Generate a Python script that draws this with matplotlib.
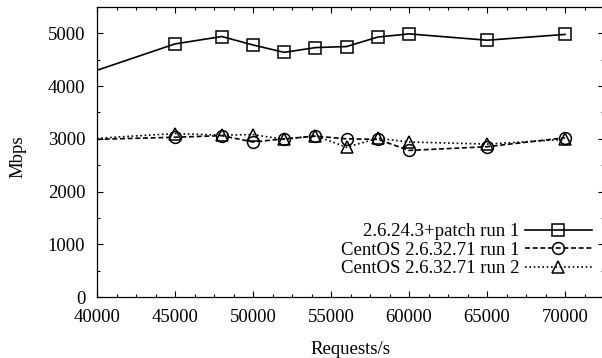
import numpy as np
import matplotlib.pyplot as plt
from matplotlib.ticker import MultipleLocator

plt.rcParams['font.family'] = ['Liberation Serif', 'DejaVu Serif']
plt.rcParams['font.size'] = 13.5

# data (first point sits on the left border, no marker)
req_patch = [40000, 45000, 48000, 50000, 52000, 54000, 56000, 58000, 60000, 65000, 70000]
mbps_patch = [4300, 4800, 4940, 4780, 4640, 4730, 4750, 4930, 4990, 4870, 4980]

req_centos = [40000, 45000, 48000, 50000, 52000, 54000, 56000, 58000, 60000, 65000, 70000]
mbps_run1 = [2990, 3030, 3060, 2940, 3000, 3050, 3000, 2990, 2780, 2850, 3020]
mbps_run2 = [3010, 3100, 3070, 3080, 2990, 3060, 2840, 3010, 2940, 2900, 2990]

labels = ['2.6.24.3+patch run 1', 'CentOS 2.6.32.71 run 1', 'CentOS 2.6.32.71 run 2']

fig = plt.figure(figsize=(6.02, 3.58), dpi=100)
ax = fig.add_axes([97 / 602, 61 / 358, 507 / 602, 290 / 358])

common = dict(color='black', markerfacecolor='none', markeredgewidth=1.1,
              markevery=slice(1, None))
ax.plot(req_patch, mbps_patch, '-', marker='s', markersize=9, linewidth=1.2,
        label=labels[0], **common)
ax.plot(req_centos, mbps_run1, linestyle=(0, (3, 1.6)), marker='o', markersize=8.5,
        linewidth=1.2, label=labels[1], **common)
ax.plot(req_centos, mbps_run2, linestyle=(0, (1, 1.6)), marker='^', markersize=8.5,
        linewidth=1.2, label=labels[2], **common)

ax.set_xlim(40000, 72500)
ax.set_ylim(0, 5500)
ax.xaxis.set_major_locator(MultipleLocator(5000))
ax.xaxis.set_minor_locator(MultipleLocator(1250))
ax.yaxis.set_major_locator(MultipleLocator(1000))
ax.yaxis.set_minor_locator(MultipleLocator(500))
ax.tick_params(which='both', direction='in', top=True, right=True, width=0.8)
ax.tick_params(which='major', length=4.3)
ax.tick_params(which='minor', length=2.2)
ax.tick_params(axis='x', which='major', pad=9)
ax.tick_params(axis='y', which='major', pad=8.5)
for s in ax.spines.values():
    s.set_linewidth(0.9)

ax.set_xlabel('Requests/s')
ax.set_ylabel('Mbps')
ax.xaxis.set_label_coords(0.5, -0.15)
ax.yaxis.set_label_coords(-0.14, 0.483)

ax.legend(loc='upper right', bbox_to_anchor=(592 / 602, (358 - 223) / 358),
          bbox_transform=fig.transFigure, frameon=False, markerfirst=False,
          borderpad=0, borderaxespad=0, handlelength=3.6, handletextpad=0.25,
          labelspacing=0.08)

fig.savefig('out.png', dpi=100)
